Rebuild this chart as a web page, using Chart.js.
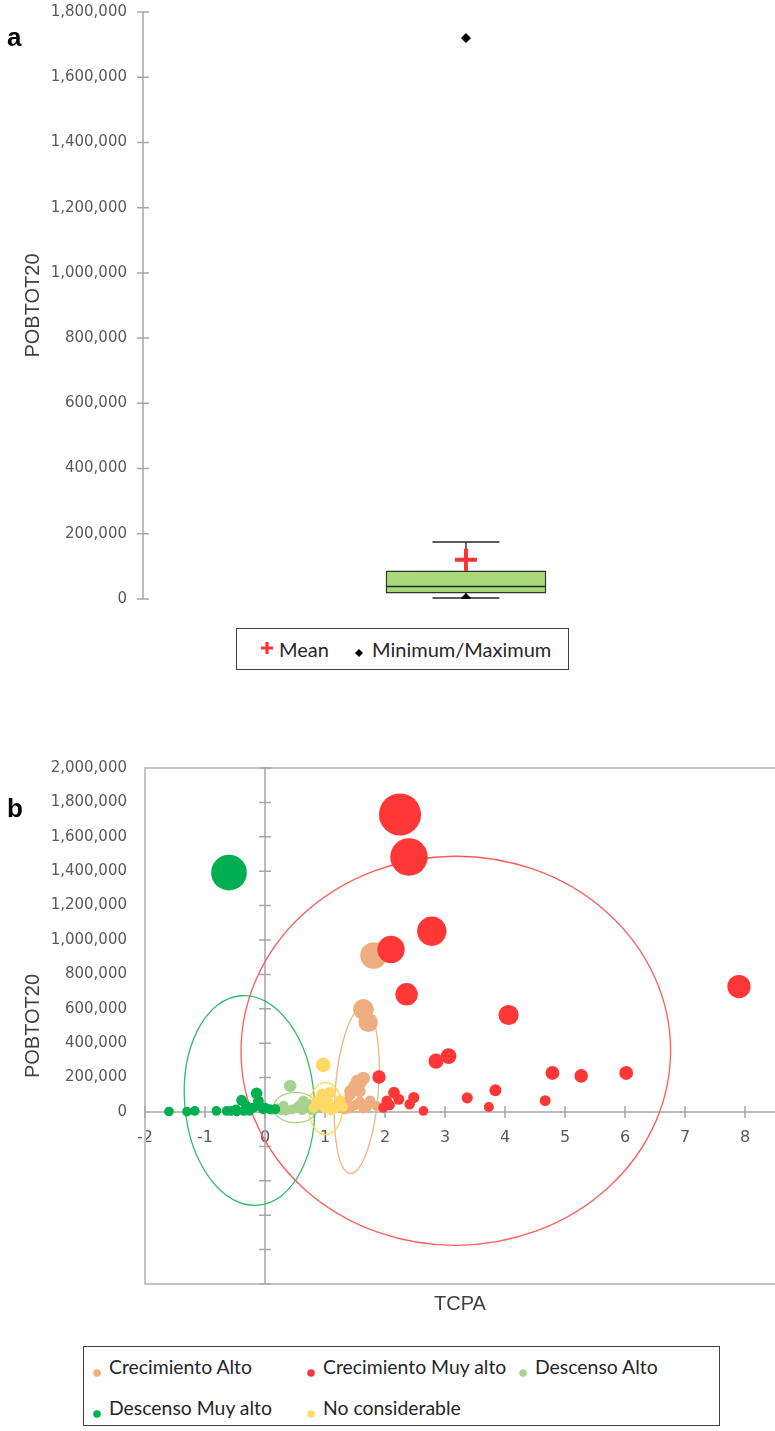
<!DOCTYPE html>
<html>
<head>
<meta charset="utf-8">
<script src="https://cdn.jsdelivr.net/npm/chart.js@4/dist/chart.umd.min.js"></script>
<style>
  html, body { margin:0; padding:0; background:#fff; }
  body { width:775px; height:1431px; position:relative; overflow:hidden; }
  canvas { position:absolute; left:0; }
  #ca { top:0; }
  #cb { top:745px; }
  .panel { position:absolute; font:bold 26px "Liberation Sans", Arial, sans-serif; line-height:1; color:#000; }
  .legend { position:absolute; border:1.3px solid #404040; box-sizing:border-box; background:#fff; }
  .lt { position:absolute; transform:translateY(-50%); line-height:1; font-family:Lato, "Noto Sans", sans-serif; font-size:20px; color:#262626; white-space:nowrap; }
  #legB .lt { font-size:19.4px; }
  .mk { position:absolute; }
</style>
</head>
<body>
<canvas id="ca" width="775" height="625"></canvas>
<canvas id="cb" width="775" height="580"></canvas>

<div class="panel" style="left:7px;top:24px;">a</div>
<div class="panel" style="left:7px;top:795px;">b</div>

<div class="legend" id="legA" style="left:236px;top:628px;width:333px;height:42px;"></div>
<div class="legend" id="legB" style="left:83px;top:1346px;width:637px;height:80px;"></div>

<script>
// ---------------- DATA: panel a (box plot of POBTOT20) ----------------
const boxPosition   = [1];
const boxQ1         = [18000];
const boxMedian     = [38000];
const boxQ3         = [86000];
const whiskerLow    = [3000];
const whiskerHigh   = [175000];
const meanValues    = [120000];
const minValues     = [3000];
const maxValues     = [1720000];
const yTickValuesA  = [0, 200000, 400000, 600000, 800000, 1000000, 1200000, 1400000, 1600000, 1800000];
const legendLabelsA = ['Mean', 'Minimum/Maximum'];

// ---------------- DATA: panel b (TCPA vs POBTOT20 bubbles) ----------------
const seriesNames = ['Crecimiento Alto', 'Crecimiento Muy alto', 'Descenso Alto', 'Descenso Muy alto', 'No considerable'];

const crecAltoX = [1.81, 1.64, 1.72, 1.64, 1.54, 1.59, 1.49, 1.42, 1.58, 1.42, 1.36, 1.58, 1.75, 1.36, 1.42, 1.64, 1.86, 1.33, 1.50, 1.70];
const crecAltoY = [910000, 597000, 521000, 196000, 180000, 171000, 150000, 122000, 120000, 100000, 60000, 60000, 64000, 25000, 20000, 20000, 35000, 15000, 40000, 30000];

const crecMuyAltoX = [2.25, 2.40, 2.78, 2.10, 2.36, 4.06, 7.90, 3.06, 2.85, 4.79, 5.27, 6.02, 1.90, 3.84, 3.37, 4.67, 3.73, 2.64, 2.15, 2.23, 2.48, 2.41, 2.03, 1.97, 2.08];
const crecMuyAltoY = [1730000, 1483000, 1051000, 945000, 684000, 564000, 729000, 325000, 296000, 227000, 210000, 227000, 204000, 126000, 82000, 66000, 29000, 6000, 113000, 74000, 84000, 45000, 64000, 25000, 40000];

const descAltoX = [0.42, 0.64, 0.31, 0.53, 0.86, 0.20, 0.72, 0.45, 0.62, 0.35, 0.78, 0.27, 0.58, 0.12];
const descAltoY = [152000, 64000, 35000, 25000, 25000, 20000, 45000, 15000, 10000, 8000, 10000, 10000, 40000, 12000];

const descMuyAltoX = [-0.60, -1.60, -1.30, -1.17, -0.81, -0.57, -0.48, -0.39, -0.31, -0.14, -0.11, -0.20, -0.03, 0.08, 0.17, -0.64, -0.47, -0.35, -0.09, 0.00, -0.26];
const descMuyAltoY = [1392000, 3000, 2000, 6000, 6000, 6000, 15000, 68000, 35000, 109000, 64000, 25000, 16000, 16000, 16000, 6000, 2000, 6000, 35000, 25000, 6000];

const noConsX = [0.97, 0.95, 1.08, 0.86, 1.25, 1.14, 0.81, 1.00, 1.19, 0.92, 1.05, 1.30, 1.10];
const noConsY = [274000, 103000, 113000, 64000, 68000, 25000, 25000, 22000, 22000, 45000, 60000, 30000, 8000];

// concentration ellipses per series (centre, semi-axes in data units, tilt in degrees)
const ellipseCX  = [1.53, 3.18, 0.51, -0.26, 1.01];
const ellipseCY  = [125000, 356000, 26000, 67000, 20000];
const ellipseRX  = [0.36, 3.58, 0.37, 1.08, 0.28];
const ellipseRY  = [483000, 1131000, 88000, 611000, 151000];
const ellipseRot = [4.5, -0.5, 0, -4.7, 0];

const xTickValuesB = [-2, -1, 0, 1, 2, 3, 4, 5, 6, 7, 8];
const yTickValuesB = [-1000000, -800000, -600000, -400000, -200000, 0, 200000, 400000, 600000, 800000, 1000000, 1200000, 1400000, 1600000, 1800000, 2000000];

// ---------------- STYLES ----------------
const seriesColors  = ['#EFAE80', '#FF3737', '#A9D18E', '#00B050', '#FFD966'];
const ellipseColors = ['#F4B183', '#FF5C5C', '#A9D18E', '#2EBE6A', '#FFD54F'];
const tickFont  = { family: 'DejaVu Sans', size: 15 };
const tickColor = '#595959';
const titleFont = { family: 'Liberation Sans', size: 20 };

const fmt = v => Number(v).toLocaleString('en-US');
const bubbleRadius = v => 4.8 + v * 9.4e-6;
const noScalePad = s => { s.paddingTop = 0; s.paddingBottom = 0; s.paddingLeft = 0; s.paddingRight = 0; };

// ---------------- plugin: crossing axes, frame, ellipses ----------------
const axesPlugin = {
  id: 'crossAxes',
  beforeDatasetsDraw(chart, args, o) {
    const { ctx, chartArea: a, scales } = chart;
    ctx.save();
    if (o.frame) {
      ctx.strokeStyle = '#C4C4C4';
      ctx.lineWidth = 2;
      ctx.beginPath();
      ctx.moveTo(a.right, a.top); ctx.lineTo(a.left, a.top);
      ctx.lineTo(a.left, a.bottom); ctx.lineTo(a.right, a.bottom);
      ctx.stroke();
    }
    ctx.strokeStyle = '#A6A6A6';
    ctx.lineWidth = 1.5;
    const vx = (o.vAt === null || o.vAt === undefined) ? a.left : scales.x.getPixelForValue(o.vAt);
    ctx.beginPath();
    ctx.moveTo(vx, a.top); ctx.lineTo(vx, a.bottom);
    scales.y.ticks.forEach(t => {
      const py = scales.y.getPixelForValue(t.value);
      ctx.moveTo(vx - 6, py); ctx.lineTo(vx + 6, py);
    });
    ctx.stroke();
    if (o.hAt !== null && o.hAt !== undefined) {
      const hy = scales.y.getPixelForValue(o.hAt);
      ctx.beginPath();
      ctx.moveTo(a.left, hy); ctx.lineTo(a.right, hy);
      scales.x.ticks.forEach(t => {
        const px = scales.x.getPixelForValue(t.value);
        ctx.moveTo(px, hy - 6); ctx.lineTo(px, hy + 6);
      });
      ctx.stroke();
    }
    if (o.ellipses) {
      ellipseCX.forEach((cxv, i) => {
        const cx = scales.x.getPixelForValue(cxv);
        const cy = scales.y.getPixelForValue(ellipseCY[i]);
        const rx = Math.abs(scales.x.getPixelForValue(cxv + ellipseRX[i]) - cx);
        const ry = Math.abs(scales.y.getPixelForValue(ellipseCY[i] + ellipseRY[i]) - cy);
        ctx.beginPath();
        ctx.ellipse(cx, cy, rx, ry, ellipseRot[i] * Math.PI / 180, 0, 2 * Math.PI);
        ctx.strokeStyle = ellipseColors[i];
        ctx.lineWidth = 1.3;
        ctx.stroke();
      });
    }
    ctx.restore();
  }
};

// ---------------- Chart a ----------------
const bx = boxPosition[0];
new Chart(document.getElementById('ca'), {
  type: 'bar',
  data: {
    datasets: [
      { type: 'scatter', label: legendLabelsA[0], data: [{ x: bx, y: meanValues[0] }],
        pointStyle: 'cross', pointRadius: 11, pointBorderColor: '#FF3333', pointBorderWidth: 4, order: 0 },
      { type: 'scatter', label: legendLabelsA[1], data: [{ x: bx, y: minValues[0] }, { x: bx, y: maxValues[0] }],
        pointStyle: 'rectRot', pointRadius: 4.5, pointBackgroundColor: '#000', pointBorderColor: '#000', pointBorderWidth: 1, order: 1 },
      { type: 'scatter', label: 'Median', data: [{ x: bx, y: boxMedian[0] }],
        pointStyle: 'line', pointRadius: 80, pointBorderColor: '#262626', pointBorderWidth: 1.5, order: 2 },
      { type: 'scatter', label: 'Whisker caps', data: [{ x: bx, y: whiskerHigh[0] }, { x: bx, y: whiskerLow[0] }],
        pointStyle: 'line', pointRadius: 33.5, pointBorderColor: '#262626', pointBorderWidth: 1.4, order: 3 },
      { type: 'scatter', label: 'Upper whisker', showLine: true, data: [{ x: bx, y: boxQ3[0] }, { x: bx, y: whiskerHigh[0] }],
        pointRadius: 0, borderColor: '#262626', borderWidth: 1.4, order: 4 },
      { type: 'scatter', label: 'Lower whisker', showLine: true, data: [{ x: bx, y: whiskerLow[0] }, { x: bx, y: boxQ1[0] }],
        pointRadius: 0, borderColor: '#262626', borderWidth: 1.4, order: 5 },
      { type: 'bar', label: 'Box', data: [{ x: bx, y: [boxQ1[0], boxQ3[0]] }],
        backgroundColor: '#A9D878', borderColor: '#333333', borderWidth: 1.4, borderSkipped: false,
        barThickness: 160, order: 6 }
    ]
  },
  options: {
    responsive: false, animation: false, events: [],
    layout: { autoPadding: false, padding: { top: 12, bottom: 26, left: 0, right: 5 } },
    plugins: { legend: { display: false }, tooltip: { enabled: false }, crossAxes: { vAt: null } },
    scales: {
      x: { type: 'linear', display: false, min: 0, max: 1.935 },
      y: {
        type: 'linear', position: 'left', min: 0, max: 1800000,
        afterBuildTicks: s => { s.ticks = yTickValuesA.map(v => ({ value: v })); },
        afterFit: s => { s.width = 143; noScalePad(s); },
        ticks: { font: tickFont, color: tickColor, padding: 16, callback: v => fmt(v) },
        grid: { display: false, drawTicks: false },
        border: { display: false },
        title: { display: true, text: 'POBTOT20', font: titleFont, color: '#404040', padding: { top: 21, bottom: 0 } }
      }
    }
  },
  plugins: [axesPlugin]
});

// ---------------- Chart b ----------------
const groupsX = [crecAltoX, crecMuyAltoX, descAltoX, descMuyAltoX, noConsX];
const groupsY = [crecAltoY, crecMuyAltoY, descAltoY, descMuyAltoY, noConsY];

new Chart(document.getElementById('cb'), {
  type: 'bubble',
  data: {
    datasets: seriesNames.map((name, i) => ({
      label: name,
      data: groupsX[i].map((x, j) => ({ x: x, y: groupsY[i][j] })),
      backgroundColor: seriesColors[i],
      borderWidth: 0,
      order: seriesNames.length - i,
      radius: ctx => bubbleRadius(ctx.raw ? ctx.raw.y : 0),
      hoverRadius: 0
    }))
  },
  options: {
    responsive: false, animation: false, events: [],
    layout: { autoPadding: false, padding: { top: 23, bottom: 0, left: 0, right: 0 } },
    plugins: { legend: { display: false }, tooltip: { enabled: false }, crossAxes: { vAt: 0, hAt: 0, frame: true, ellipses: true } },
    scales: {
      x: {
        type: 'linear', position: { y: 0 }, min: -2, max: 8.5,
        afterBuildTicks: s => { s.ticks = xTickValuesB.map(v => ({ value: v })); },
        afterFit: noScalePad,
        ticks: { font: { family: 'DejaVu Sans', size: 16 }, color: tickColor, padding: 16 },
        grid: { display: false, drawTicks: false },
        border: { display: false }
      },
      xTitle: {
        type: 'linear', axis: 'x', position: 'bottom', display: true,
        ticks: { display: false }, grid: { display: false, drawTicks: false }, border: { display: false },
        title: { display: true, text: 'TCPA', font: titleFont, color: '#404040', padding: { top: 0, bottom: 9 } },
        afterFit: s => { s.height = 41; noScalePad(s); }
      },
      y: {
        type: 'linear', position: 'left', min: -1000000, max: 2000000,
        afterBuildTicks: s => { s.ticks = yTickValuesB.map(v => ({ value: v })); },
        afterFit: s => { s.width = 145; noScalePad(s); },
        ticks: { font: tickFont, color: tickColor, padding: 18, callback: v => (v >= 0 ? fmt(v) : '') },
        grid: { display: false, drawTicks: false },
        border: { display: false },
        title: { display: true, text: 'POBTOT20', font: titleFont, color: '#404040', padding: { top: 21, bottom: 0 } }
      }
    }
  },
  plugins: [axesPlugin]
});

// ---------------- HTML legends ----------------
function addText(parent, text, left, top) {
  const d = document.createElement('div');
  d.className = 'lt';
  d.style.left = left + 'px';
  d.style.top = top + 'px';
  d.textContent = text;
  parent.appendChild(d);
}
function addSvg(parent, left, top, w, h, inner) {
  const d = document.createElement('div');
  d.className = 'mk';
  d.style.left = left + 'px'; d.style.top = top + 'px';
  d.innerHTML = '<svg width="' + w + '" height="' + h + '" xmlns="http://www.w3.org/2000/svg">' + inner + '</svg>';
  parent.appendChild(d);
}
const legA = document.getElementById('legA');
addSvg(legA, 23, 12, 14, 14, '<path d="M7 1 V13 M1 7 H13" stroke="#FF3333" stroke-width="3.2"/>');
addText(legA, legendLabelsA[0], 42, 20);
addSvg(legA, 117, 15, 10, 10, '<path d="M5 1 L9 5 L5 9 L1 5 Z" fill="#000"/>');
addText(legA, legendLabelsA[1], 135, 20);

const legB = document.getElementById('legB');
const legPos = [[13, 20], [227, 20], [439, 20], [13, 61], [227, 61]];
seriesNames.forEach((n, i) => {
  const [lx, ly] = legPos[i];
  addSvg(legB, lx - 4, ly - 4, 8, 8, '<circle cx="4" cy="4" r="3.8" fill="' + seriesColors[i] + '"/>');
  addText(legB, n, lx + 12, ly);
});
</script>
</body>
</html>
